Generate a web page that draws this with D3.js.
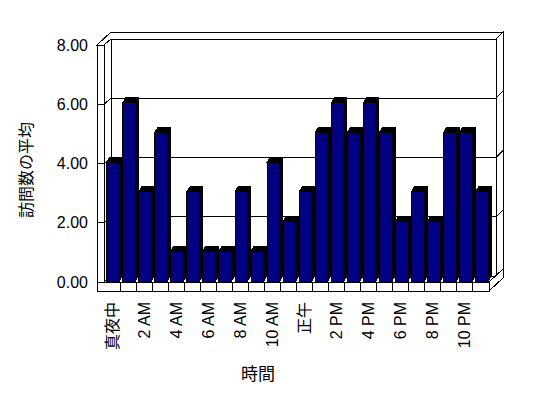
<!DOCTYPE html>
<html><head><meta charset="utf-8">
<script src="https://cdn.jsdelivr.net/npm/d3@7"></script>
<style>
body{margin:0;background:#fff}
svg{display:block}
text{font-family:"Liberation Sans",Arial,"Noto Sans CJK JP",sans-serif;fill:#000}
</style>
</head><body>
<svg id="c" width="548" height="398"></svg>
<script>
const categories = ["真夜中","1 AM","2 AM","3 AM","4 AM","5 AM","6 AM","7 AM","8 AM","9 AM","10 AM","11 AM",
  "正午","1 PM","2 PM","3 PM","4 PM","5 PM","6 PM","7 PM","8 PM","9 PM","10 PM","11 PM"];
const visits = [4,6,3,5,1,3,1,1,3,1,4,2,3,5,6,5,6,5,2,3,2,5,5,3];
const yTicks = [0,2,4,6,8];
const xTickLabels = categories.filter((d,i)=>i%2===0);
const xTitle = "時間";
const yTitle = "訪問数の平均";

const svg = d3.select("#c");
const x = d3.scaleBand().domain(categories).range([104,489]).paddingInner(0).paddingOuter(0);
const y = d3.scaleLinear().domain([0,8]).range([282,45]);

const D = {x:7,y:-6};   // chart depth
const B = {x:7,y:-7};   // back wall thickness
const T = 7;            // left wall thickness
const FL = 9;           // floor thickness
const x0 = x.range()[0], x1 = x.range()[1], y0 = y(0), yT = y(8);
const BD = {x:3,y:-5};  // bar depth

const g = svg.append("g").attr("fill","#fff").attr("stroke","#000").attr("stroke-width",1)
  .attr("shape-rendering","crispEdges");
const poly = pts => "M" + pts.map(p=>p.join(",")).join("L") + "Z";

// back wall inner face
g.append("path").attr("d", poly([[x0+D.x,yT+D.y],[x1+D.x,yT+D.y],[x1+D.x,y0+D.y],[x0+D.x,y0+D.y]]));
// left wall inner face
g.append("path").attr("d", poly([[x0,yT],[x0+D.x,yT+D.y],[x0+D.x,y0+D.y],[x0,y0]]));
// top faces of walls
g.append("path").attr("d", poly([[x0-T,yT],[x0,yT],[x0+D.x,yT+D.y],[x1+D.x,yT+D.y],
  [x1+D.x+B.x,yT+D.y+B.y],[x0-T+D.x+B.x,yT+D.y+B.y]]));
// left wall front face
g.append("path").attr("d", poly([[x0-T,yT],[x0,yT],[x0,y0],[x0-T,y0]]));
// back wall right face
g.append("path").attr("d", poly([[x1+D.x,yT+D.y],[x1+D.x+B.x,yT+D.y+B.y],[x1+D.x+B.x,y0+D.y+B.y],[x1+D.x,y0+D.y]]));
// floor top
g.append("path").attr("d", poly([[x0,y0],[x1,y0],[x1+D.x,y0+D.y],[x0+D.x,y0+D.y]]));
// floor front face
g.append("path").attr("d", poly([[x0-T,y0],[x1,y0],[x1,y0+FL],[x0-T,y0+FL]]));
// floor right face
g.append("path").attr("d", poly([[x1,y0],[x1+D.x+B.x,y0+D.y+B.y],[x1+D.x+B.x,y0+FL+D.y+B.y],[x1,y0+FL]]));

// gridlines
g.selectAll("path.grid").data(yTicks).join("path").attr("class","grid").attr("fill","none")
  .attr("d", v => `M${x0-T},${y(v)}H${x0}L${x0+D.x},${y(v)+D.y}H${x1+D.x}L${x1+D.x+B.x},${y(v)+D.y+B.y}`);

// floor cell dividers
g.selectAll("line.cell").data(categories.slice(1)).join("line").attr("class","cell")
  .attr("x1", d=>x(d)).attr("x2", d=>x(d)).attr("y1", y0).attr("y2", y0+FL);

// bars
const bw = x.bandwidth()*0.785;
const bars = svg.append("g").attr("shape-rendering","crispEdges");
categories.forEach((c,i)=>{
  const v = visits[i];
  const bl = x(c)+2.7, br = bl+bw, bt = y(v)-1.3, bb = y0-1;
  bars.append("path").attr("fill","#000").attr("stroke","#000")
    .attr("d", poly([[bl,bt],[br,bt],[br,bb],[br+BD.x,bb+BD.y],[br+BD.x,bt+BD.y],[bl+BD.x,bt+BD.y]]));
  bars.append("rect").attr("x",bl).attr("y",bt).attr("width",bw).attr("height",bb-bt)
    .attr("fill","#000080").attr("stroke","#000");
});

// y axis labels
svg.append("g").selectAll("text").data(yTicks).join("text")
  .attr("x", 88).attr("y", d=>y(d)).attr("text-anchor","end").attr("dominant-baseline","central")
  .attr("font-size",16).text(d=>d3.format(".2f")(d));

// x axis labels
const xa = d3.axisBottom(x).tickValues(xTickLabels).tickSize(0).tickPadding(0);
const xg = svg.append("g").attr("transform",`translate(0,${302})`).call(xa);
xg.select(".domain").remove();
xg.attr("font-family",null).attr("font-size",null);
xg.selectAll("text").attr("transform","rotate(-90)").attr("x",0).attr("y",0).attr("dy",null)
  .attr("text-anchor","end").attr("dominant-baseline","central")
  .attr("font-size",16).style("fill","#000")
  .style("font-family",'"Liberation Sans",Arial,"Noto Sans CJK JP",sans-serif');

// titles
svg.append("text").attr("x",258).attr("y",374).attr("text-anchor","middle").attr("dominant-baseline","central")
  .attr("font-size",17).text(xTitle);
svg.append("text").attr("transform","translate(26,170) rotate(-90)").attr("text-anchor","middle")
  .attr("dominant-baseline","central").attr("font-size",16).text(yTitle);
</script>
</body></html>
